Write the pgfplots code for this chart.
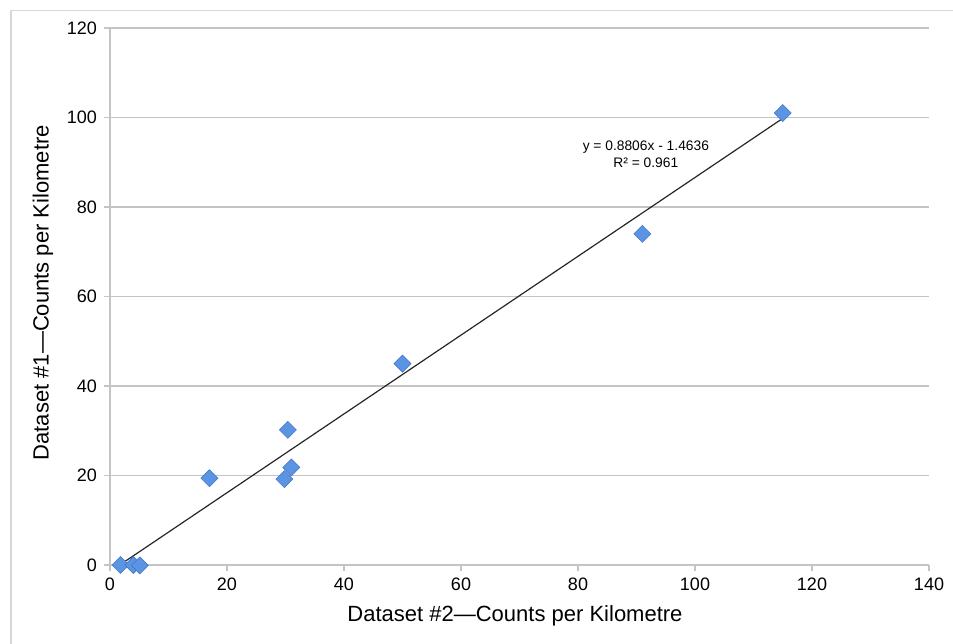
\documentclass[border=0pt]{standalone}
\usepackage{pgfplots}
\pgfplotsset{compat=1.18}
\usepackage{fontspec}
\setmainfont{Liberation Sans}
\definecolor{markblue}{RGB}{92,148,228}
\definecolor{markedge}{RGB}{70,120,200}
\definecolor{gridgray}{RGB}{196,196,196}
\definecolor{framegray}{RGB}{215,215,215}
\begin{document}
\begin{tikzpicture}[x=1pt,y=1pt]
  % fixed page size; the outer frame runs off the right and bottom edges
  \useasboundingbox (0,0) rectangle (476.5,321.5);
  \draw[framegray, line width=0.8pt] (5.5,-10) rectangle (500,316.2);
  \begin{axis}[
    at={(55pt,39pt)}, anchor=south west,
    scale only axis, width=409.5pt, height=268.5pt,
    xmin=0, xmax=140, ymin=0, ymax=120,
    xtick={0,20,...,140}, ytick={0,20,...,120},
    axis x line*=bottom, axis y line*=left,
    axis line style={gridgray, line width=0.8pt, -},
    ymajorgrids, major grid style={gridgray, line width=0.8pt},
    tick align=outside, major tick length=3pt,
    tick style={gridgray, line width=0.8pt},
    /pgf/number format/assume math mode=true,
    ticklabel style={font=\fontsize{9}{10}\selectfont, text=black},
    xlabel={Dataset \#2---Counts per Kilometre},
    ylabel={Dataset \#1---Counts per Kilometre},
    label style={font=\fontsize{11}{13}\selectfont},
    xlabel style={at={(axis description cs:0.4945,-0.095)}, anchor=center},
    ylabel style={at={(axis description cs:-0.082,0.507)}, anchor=center},
    clip=false,
  ]
    % linear trendline y = 0.8806x - 1.4636
    \addplot[black!85, line width=0.6pt] coordinates {(1.7,0.0334) (115,99.806)};
    \addplot[only marks, mark=square*, mark size=3pt,
      mark options={rotate=45, fill=markblue, draw=markedge, line width=0.3pt}]
      coordinates {
        (115,101) (91,74) (50,45) (30.4,30.2) (31,21.8) (29.8,19.2)
        (17,19.4) (1.8,0) (4,0) (5.1,-0.1)
      };
    \node[align=center, font=\fontsize{6.9}{8.5}\selectfont, inner sep=0pt]
      at (axis cs:91.6,91.7) {y = 0.8806x - 1.4636\\R² = 0.961};
  \end{axis}
\end{tikzpicture}
\end{document}
